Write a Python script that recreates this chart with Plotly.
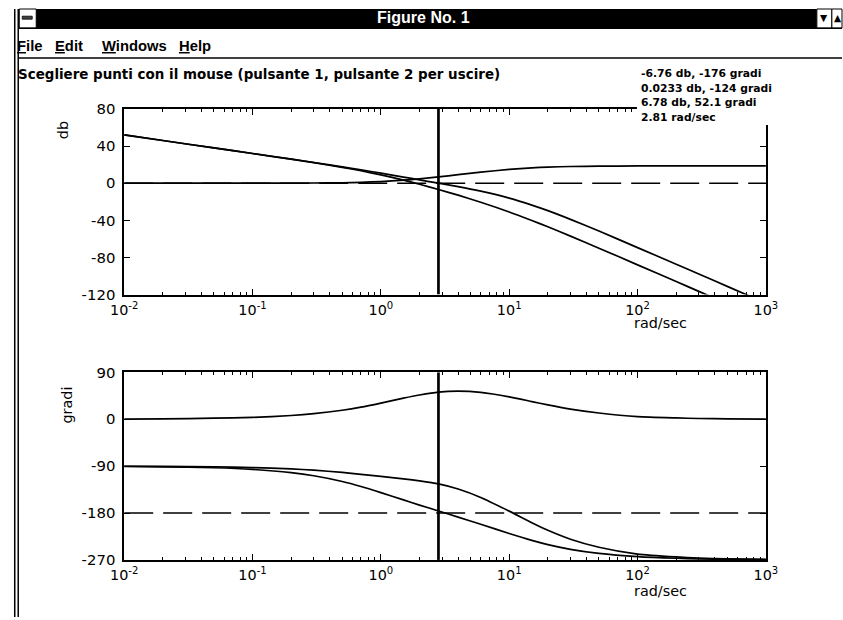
import plotly.graph_objects as go

# ---------------- data ----------------
w = [0.01, 0.02, 0.05, 0.1, 0.2, 0.3, 0.5, 0.7, 1, 1.5, 2, 2.81, 4, 6, 10, 15, 20, 30,
     50, 100, 200, 300, 500, 1000]

# magnitude, dB
mag_plant = [52.0, 46.0, 38.0, 32.0, 25.9, 22.1, 17.1, 13.4, 9.0, 3.3, -1.1, -6.8, -12.9,
             -20.5, -31.0, -40.2, -47.0, -57.0, -70.0, -88.0, -106.0, -116.6, -129.9, -148.0]
mag_loop = [52.0, 46.0, 38.0, 32.0, 26.0, 22.3, 17.6, 14.4, 10.8, 6.6, 3.6, 0.0, -3.7,
            -8.6, -16.1, -23.6, -29.6, -39.0, -51.6, -69.4, -87.3, -97.9, -111.2, -129.3]
mag_ctrl = [0.0, 0.0, 0.0, 0.0, 0.1, 0.2, 0.5, 1.0, 1.8, 3.3, 4.7, 6.8, 9.2, 11.9, 14.9,
            16.6, 17.4, 18.0, 18.4, 18.6, 18.7, 18.7, 18.7, 18.7]

# phase, degrees
ph_plant = [-90.6, -91.3, -93.1, -96.3, -102.5, -108.4, -119.4, -129.0, -140.7, -154.8,
            -164.7, -176.0, -187.8, -201.5, -219.3, -232.5, -240.6, -249.7, -257.6,
            -263.7, -266.8, -267.9, -268.7, -269.4]
ph_loop = [-90.2, -90.5, -91.1, -92.7, -95.3, -97.7, -102.1, -105.8, -109.7, -114.3,
           -118.2, -124.0, -133.8, -150.0, -176.3, -198.5, -213.1, -230.2, -245.6,
           -258.7, -264.3, -266.4, -267.9, -269.0]
ph_ctrl = [0.4, 0.8, 2.0, 3.6, 7.2, 10.7, 17.3, 23.2, 31.0, 40.5, 46.5, 52.1, 54.0, 51.5,
           43.0, 34.0, 27.5, 19.5, 12.0, 5.0, 2.5, 1.5, 0.8, 0.4]

ref_w = [0.01, 1000]
ref_db = [0, 0]
ref_deg = [-180, -180]

cursor_w = [2.81, 2.81]
cursor_db = [-120, 80]
cursor_deg = [-270, 90]

readout = ["-6.76 db, -176 gradi", "0.0233 db, -124 gradi", "6.78 db, 52.1 gradi",
           "2.81 rad/sec"]

x_tickvals = [0.01, 0.1, 1, 10, 100, 1000]
x_ticktext = ["10<sup>-2</sup>", "10<sup>-1</sup>", "10<sup>0</sup>", "10<sup>1</sup>",
              "10<sup>2</sup>", "10<sup>3</sup>"]
db_ticks = [-120, -80, -40, 0, 40, 80]
db_text = ["-120", "-80", "-40", "0", "40", "80"]
deg_ticks = [-270, -180, -90, 0, 90]
deg_text = ["-270", "-180", "-90", "0", "90"]

# ---------------- figure geometry ----------------
# Positions are given in picture pixels (843 x 620); the helpers convert them to
# paper fractions of the plot div, which sits inside the page's body margin.
SX, SY, OX, MARGIN = 0.97, 0.9735, 5.0, 8.0
FW, FH = 854, 626


def px(x):
    return ((x - OX) / SX - MARGIN) / FW


def py(y):
    return 1 - (y / SY - MARGIN) / FH


def fs(size):
    return size / SY


FONT = "DejaVu Sans, Arial, sans-serif"
MENU = "Liberation Sans, Arial, sans-serif"

fig = go.Figure()
line = dict(color="black", width=1.7, shape="spline", smoothing=0.6)

for ys in (mag_ctrl, mag_loop, mag_plant):
    fig.add_trace(go.Scatter(x=w, y=ys, mode="lines", line=line, xaxis="x", yaxis="y"))
fig.add_trace(go.Scatter(x=ref_w, y=ref_db, mode="lines", xaxis="x", yaxis="y",
                         line=dict(color="black", width=1.4, dash="29px,10px")))
fig.add_trace(go.Scatter(x=cursor_w, y=cursor_db, mode="lines", xaxis="x", yaxis="y",
                         line=dict(color="black", width=2.7)))

for ys in (ph_ctrl, ph_loop, ph_plant):
    fig.add_trace(go.Scatter(x=w, y=ys, mode="lines", line=line, xaxis="x2", yaxis="y2"))
fig.add_trace(go.Scatter(x=ref_w, y=ref_deg, mode="lines", xaxis="x2", yaxis="y2",
                         line=dict(color="black", width=1.4, dash="29px,10px")))
fig.add_trace(go.Scatter(x=cursor_w, y=cursor_deg, mode="lines", xaxis="x2", yaxis="y2",
                         line=dict(color="black", width=2.7)))

minor_vals = [m * 10 ** e for e in range(-2, 3) for m in range(2, 10)]

xcommon = dict(type="log", range=[-2, 3], domain=[px(123), px(765)],
               tickmode="array", tickvals=x_tickvals, ticktext=x_ticktext,
               ticks="inside", ticklen=6, tickwidth=1.2, tickcolor="black",
               showline=True, linecolor="black", linewidth=1.7, mirror="ticks",
               showgrid=False, zeroline=False, ticklabelstandoff=1,
               tickfont=dict(family=FONT, size=fs(14), color="black"),
               minor=dict(tickmode="array", tickvals=minor_vals, ticks="inside",
                          ticklen=3, tickwidth=1, tickcolor="black", showgrid=False))
ycommon = dict(ticks="inside", ticklen=6, tickwidth=1.2, tickcolor="black",
               showline=True, linecolor="black", linewidth=1.7, mirror="ticks",
               showgrid=False, zeroline=False, tickmode="array", ticklabelstandoff=4,
               tickfont=dict(family=FONT, size=fs(14.5), color="black"))

fig.update_layout(
    width=FW, height=FH, margin=dict(l=0, r=0, t=0, b=0),
    paper_bgcolor="white", plot_bgcolor="white", showlegend=False,
    xaxis=dict(xcommon, anchor="y"),
    yaxis=dict(ycommon, domain=[py(294), py(108)], range=[-120, 80],
               tickvals=db_ticks, ticktext=db_text, anchor="x"),
    xaxis2=dict(xcommon, anchor="y2"),
    yaxis2=dict(ycommon, domain=[py(560), py(372)], range=[-270, 90],
                tickvals=deg_ticks, ticktext=deg_text, anchor="x2"),
)

shapes = []


def cx(x):
    return min(max(px(x), 0), 1)


def cy(y):
    return min(max(py(y), 0), 1)


def rect(x0, y0, x1, y1, fill="white", lc="black", lw=1, layer="below"):
    shapes.append(dict(type="rect", xref="paper", yref="paper",
                       x0=cx(x0), x1=cx(x1), y0=cy(y1), y1=cy(y0),
                       fillcolor=fill, line=dict(color=lc, width=lw), layer=layer))


def hline(x0, x1, y, lw=1):
    shapes.append(dict(type="line", xref="paper", yref="paper",
                       x0=cx(x0), x1=cx(x1), y0=cy(y), y1=cy(y),
                       line=dict(color="black", width=lw)))


def vline(x, y0, y1, lw=1):
    shapes.append(dict(type="line", xref="paper", yref="paper",
                       x0=cx(x), x1=cx(x), y0=cy(y0), y1=cy(y1),
                       line=dict(color="black", width=lw)))


# window frame
vline(13.5, 0, 620, 1.5)
vline(17, 0, 620, 1.5)
rect(17, 0, 816, 27, fill="black", lw=0)
rect(18, 6, 35, 27, fill="white", lw=1)
rect(21, 15, 31, 18, fill="#444", lw=0.8)
rect(816, 5, 831, 27, fill="white", lw=1)
rect(831, 5, 843, 27, fill="white", lw=1)
hline(17, 843, 27, 1.5)
hline(17, 843, 57, 1.5)
# white box behind the readout (it hides the plot's top-right corner)
rect(636, 60, 800, 124, fill="white", lw=0, layer="above")

fig.update_layout(shapes=shapes)

ann = []


def text(x, y, s, size=13, family=FONT, color="black", xanchor="left", angle=0):
    ann.append(dict(xref="paper", yref="paper", x=px(x), y=py(y), text=s,
                    showarrow=False, xanchor=xanchor, yanchor="middle",
                    textangle=angle, borderpad=0,
                    font=dict(family=family, size=fs(size), color=color)))


text(422, 16, "<b>Figure No. 1</b>", size=15.6, family=MENU, color="white",
     xanchor="center")
text(823.5, 16, "▼", size=9, xanchor="center")
text(837, 16, "▲", size=9, xanchor="center")
text(15, 45, "<b><u>F</u>ile</b>", size=14.4, family=MENU)
text(53, 45, "<b><u>E</u>dit</b>", size=14.4, family=MENU)
text(100, 45, "<b><u>W</u>indows</b>", size=14.4, family=MENU)
text(177, 45, "<b><u>H</u>elp</b>", size=14.4, family=MENU)
text(16, 73, "<b>Scegliere punti con il mouse (pulsante 1, pulsante 2 per uscire)</b>",
     size=13.1)
for i, s in enumerate(readout):
    text(639, 72 + 15 * i, "<b>" + s + "</b>", size=10.5)
text(62, 129, "db", size=14, xanchor="center", angle=-90)
text(66, 405, "gradi", size=14, xanchor="center", angle=-90)
text(660, 323, "rad/sec", size=14, xanchor="center")
text(660, 591, "rad/sec", size=14, xanchor="center")

fig.update_layout(annotations=ann)
fig.write_html("out.html")
